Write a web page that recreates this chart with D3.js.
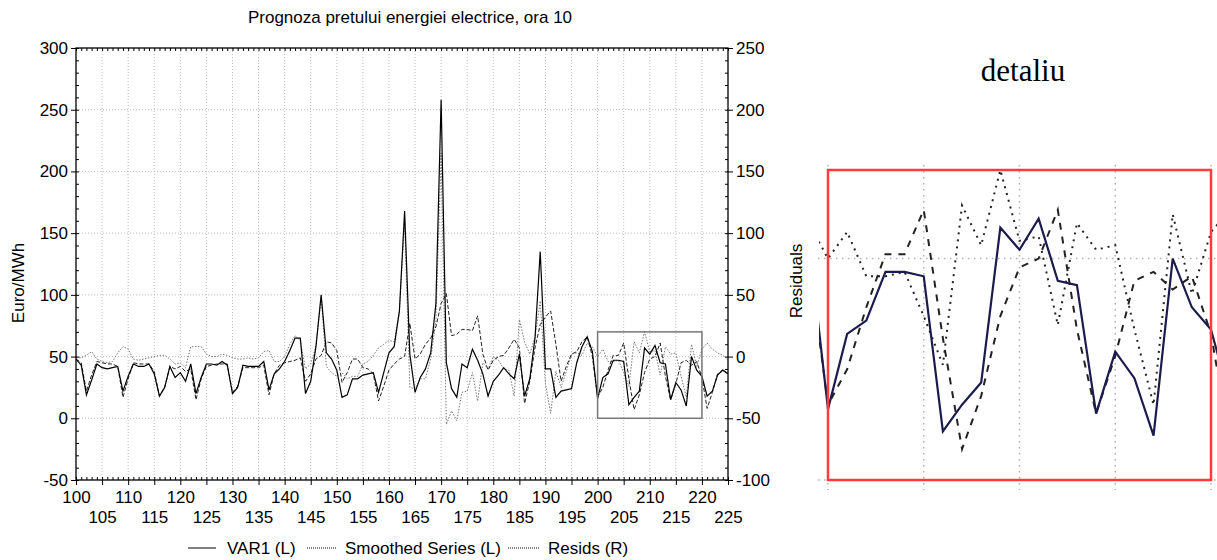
<!DOCTYPE html>
<html>
<head>
<meta charset="utf-8">
<script src="https://cdn.jsdelivr.net/npm/d3@7"></script>
<style>
body { margin: 0; background: #fff; }
text { font-family: Arial, "Liberation Sans", sans-serif; }
</style>
</head>
<body>
<div id="chart"></div>
<script>
var days = d3.range(100, 226);

var var1 = [48,43,19,31,44,41,40,41,42,22,
34,44,42,42,44,36,18,25,42,33,
37,30,44,20,33,44,44,43,46,43,
20,25,43,42,42,42,46,23,36,40,
46,55,65,65,20,30,58,100,53,48,
39,17,19,32,32,35,36,37,21,37,
53,58,87,168,52,21,33,40,53,93,
258,45,24,17,44,41,56,47,36,18,
30,35,41,36,32,52,18,32,65,135,
40,40,17,22,23,24,45,58,66,54,
16,33,36,47,47,46,11,17,22,57,
52,59,45,44,15,29,23,10,50,39,
34,18,22,35,39,36];

var smoothed = [48,45,22,35,46,45,44,44,42,17,
32,45,44,44,44,38,18,25,42,40,
42,38,40,15,32,42,43,44,44,44,
21,26,41,41,41,41,43,19,36,43,
45,46,47,49,30,36,48,51,62,61,
55,29,37,48,48,41,40,36,14,26,
39,44,48,50,77,48,52,60,65,74,
93,101,67,68,72,72,71,83,52,39,
47,50,51,57,64,57,12,30,57,76,
82,87,60,30,42,52,54,62,66,50,
17,25,39,51,51,61,32,7,19,37,
48,50,61,34,15,28,45,47,43,46,
33,8,21,36,39,36];

// residuals, right axis
var resids = [-1,-1,1,4,-2,-4,-5,-4,3,8,
6,-2,-3,-2,-1,0,1,1,-2,-6,
-5,-9,8,8,8,2,0,0,2,1,
-1,-2,-2,-1,-2,-1,4,5,-4,-4,
0,10,17,13,-10,-6,9,48,-8,-13,
-16,-13,-18,-16,-16,-6,-4,1,7,10,
13,12,36,110,-25,-26,-18,-18,-2,29,
165,-55,-44,-52,-29,-28,-13,-36,-5,-10,
0,-3,-10,-11,-32,30,12,2,16,45,
-22,-46,-12,-25,-12,2,3,1,11,8,
0,6,-4,-4,-3,-13,-24,12,3,20,
4,5,-15,8,2,3,-16,-33,10,-8,
6,11,6,3,1,-3];

var leftTicks = [-50, 0, 50, 100, 150, 200, 250, 300];
var rightTicks = [-100, -50, 0, 50, 100, 150, 200, 250];
var xTicksTop = [100, 110, 120, 130, 140, 150, 160, 170, 180, 190, 200, 210, 220];
var xTicksLow = [105, 115, 125, 135, 145, 155, 165, 175, 185, 195, 205, 215, 225];
var legendNames = ['VAR1 (L)', 'Smoothed Series (L)', 'Resids (R)'];
var boxRange = {x0: 200, x1: 220, r0: -50, r1: 20};

var W = 1217, H = 560;
var svg = d3.select('#chart')
.append('svg')
.attr('width', W)
.attr('height', H);

var x = d3.scaleLinear().domain([100, 225]).range([76, 728]);
var yL = d3.scaleLinear().domain([-50, 300]).range([480, 48]);
var yR = d3.scaleLinear().domain([-100, 250]).range([480, 48]);

var plain = function(d) { return String(d); };

var data = days.map(function(d, i) {
  return {day: d, v: var1[i], s: smoothed[i], r: resids[i]};
});

// grid
var grid = svg.append('g').attr('stroke', '#bdbdbd').attr('stroke-dasharray', '1,2');
grid.selectAll('.gv')
.data(d3.range(105, 225, 5))
.enter().append('line')
.attr('x1', function(d) { return x(d); })
.attr('x2', function(d) { return x(d); })
.attr('y1', 48).attr('y2', 480);
grid.selectAll('.gh')
.data(leftTicks.slice(1, -1))
.enter().append('line')
.attr('x1', 76).attr('x2', 728)
.attr('y1', function(d) { return yL(d); })
.attr('y2', function(d) { return yL(d); });

svg.append('clipPath').attr('id', 'clipMain')
.append('rect').attr('x', 76).attr('y', 48).attr('width', 652).attr('height', 432);

var plot = svg.append('g').attr('clip-path', 'url(#clipMain)');

var lineV = d3.line().x(function(d) { return x(d.day); }).y(function(d) { return yL(d.v); });
var lineS = d3.line().x(function(d) { return x(d.day); }).y(function(d) { return yL(d.s); });
var lineR = d3.line().x(function(d) { return x(d.day); }).y(function(d) { return yR(d.r); });

plot.append('path').datum(data)
.attr('d', lineR).attr('fill', 'none')
.attr('stroke', '#777').attr('stroke-width', 1).attr('stroke-dasharray', '1.5,1.5');
plot.append('path').datum(data)
.attr('d', lineS).attr('fill', 'none')
.attr('stroke', '#222').attr('stroke-width', 1).attr('stroke-dasharray', '4,2');
plot.append('path').datum(data)
.attr('d', lineV).attr('fill', 'none')
.attr('stroke', '#000').attr('stroke-width', 1.2);

// box over the detailed region
svg.append('rect')
.attr('x', x(boxRange.x0))
.attr('y', yR(boxRange.r1))
.attr('width', x(boxRange.x1) - x(boxRange.x0))
.attr('height', yR(boxRange.r0) - yR(boxRange.r1))
.attr('fill', 'none').attr('stroke', '#777').attr('stroke-width', 1.5);

// axes
function styleAxis(g) {
  g.select('.domain').remove();
  g.selectAll('line').attr('stroke', '#000');
  g.selectAll('text').attr('font-size', '17px').attr('fill', '#000')
  .style('font-family', 'Arial, "Liberation Sans", sans-serif');
}

svg.append('g').attr('transform', 'translate(76,0)')
.call(d3.axisLeft(yL).tickValues(leftTicks).tickFormat(plain).tickSize(5).tickPadding(3)).call(styleAxis);
svg.append('g').attr('transform', 'translate(76,0)')
.call(d3.axisRight(yL).tickValues(d3.range(-50, 301, 10)).tickSize(3).tickFormat('')).call(styleAxis);
svg.append('g').attr('transform', 'translate(728,0)')
.call(d3.axisRight(yR).tickValues(rightTicks).tickFormat(plain).tickSize(5).tickPadding(3)).call(styleAxis);
svg.append('g').attr('transform', 'translate(728,0)')
.call(d3.axisLeft(yR).tickValues(d3.range(-100, 251, 10)).tickSize(3).tickFormat('')).call(styleAxis);

svg.append('g').attr('transform', 'translate(0,480)')
.call(d3.axisBottom(x).tickValues(xTicksTop).tickFormat(plain).tickSize(5).tickPadding(6)).call(styleAxis);
svg.append('g').attr('transform', 'translate(0,480)')
.call(d3.axisBottom(x).tickValues(xTicksLow).tickFormat(plain).tickSize(5).tickPadding(26)).call(styleAxis);
svg.append('g').attr('transform', 'translate(0,480)')
.call(d3.axisTop(x).tickValues(days).tickSize(3).tickFormat('')).call(styleAxis);
svg.append('g').attr('transform', 'translate(0,48)')
.call(d3.axisBottom(x).tickValues(days).tickSize(3).tickFormat('')).call(styleAxis);

svg.append('rect')
.attr('x', 76).attr('y', 48).attr('width', 652).attr('height', 432)
.attr('fill', 'none').attr('stroke', '#000').attr('stroke-width', 1.3);

// titles
svg.append('text')
.attr('x', 410).attr('y', 23)
.attr('text-anchor', 'middle').attr('font-size', '17px')
.text('Prognoza pretului energiei electrice, ora 10');

svg.append('text')
.attr('transform', 'translate(24,283) rotate(-90)')
.attr('text-anchor', 'middle').attr('font-size', '17px')
.text('Euro/MWh');

// legend
var legendItems = [
  {name: legendNames[0], x1: 188, x2: 216, tx: 227, dash: null},
  {name: legendNames[1], x1: 307, x2: 337, tx: 345, dash: '1,1'},
  {name: legendNames[2], x1: 508, x2: 540, tx: 548, dash: '1,1'}
];
var leg = svg.append('g');
leg.selectAll('line')
.data(legendItems).enter().append('line')
.attr('x1', function(d) { return d.x1; })
.attr('x2', function(d) { return d.x2; })
.attr('y1', 548).attr('y2', 548)
.attr('stroke', '#000').attr('stroke-width', 1)
.attr('stroke-dasharray', function(d) { return d.dash; });
leg.selectAll('text')
.data(legendItems).enter().append('text')
.attr('x', function(d) { return d.tx; })
.attr('y', 554)
.attr('font-size', '17px')
.text(function(d) { return d.name; });

// detail panel
var dx = d3.scaleLinear().domain([200, 220]).range([828, 1211]);
var dyL = d3.scaleLinear().domain([0, 70]).range([480, 170]);
var dyR = d3.scaleLinear().domain([-50, 20]).range([480, 170]);

svg.append('text')
.attr('x', 1023).attr('y', 81)
.attr('text-anchor', 'middle')
.attr('font-size', '31px')
.style('font-family', '"Liberation Serif", "Times New Roman", serif')
.text('detaliu');

svg.append('text')
.attr('transform', 'translate(802,281) rotate(-90)')
.attr('text-anchor', 'middle').attr('font-size', '17px')
.text('Residuals');

var dgrid = svg.append('g').attr('stroke', '#b0b0b0').attr('stroke-width', 1.5).attr('stroke-dasharray', '1.5,4.5');
dgrid.selectAll('.dv')
.data([200, 205, 210, 215, 220])
.enter().append('line')
.attr('x1', function(d) { return dx(d); })
.attr('x2', function(d) { return dx(d); })
.attr('y1', 165).attr('y2', 490);
dgrid.selectAll('.dh')
.data([-50, 0])
.enter().append('line')
.attr('x1', 818).attr('x2', 1217)
.attr('y1', function(d) { return dyR(d); })
.attr('y2', function(d) { return dyR(d); });

svg.append('clipPath').attr('id', 'clipDetail')
.append('rect').attr('x', 819).attr('y', 150).attr('width', 398).attr('height', 345);

var detail = svg.append('g').attr('clip-path', 'url(#clipDetail)');
var dData = data.filter(function(d) { return d.day >= 199 && d.day <= 221; });

var dLineV = d3.line().x(function(d) { return dx(d.day); }).y(function(d) { return dyL(d.v); });
var dLineS = d3.line().x(function(d) { return dx(d.day); }).y(function(d) { return dyL(d.s); });
var dLineR = d3.line().x(function(d) { return dx(d.day); }).y(function(d) { return dyR(d.r); });

detail.append('path').datum(dData)
.attr('d', dLineR).attr('fill', 'none')
.attr('stroke', '#222').attr('stroke-width', 2).attr('stroke-dasharray', '2,5');
detail.append('path').datum(dData)
.attr('d', dLineS).attr('fill', 'none')
.attr('stroke', '#222').attr('stroke-width', 2).attr('stroke-dasharray', '7,7');
detail.append('path').datum(dData)
.attr('d', dLineV).attr('fill', 'none')
.attr('stroke', '#1b1b4d').attr('stroke-width', 2.2);

svg.append('rect')
.attr('x', dx(200)).attr('y', dyR(20))
.attr('width', dx(220) - dx(200)).attr('height', dyR(-50) - dyR(20))
.attr('fill', 'none').attr('stroke', '#ff3b3b').attr('stroke-width', 2.5);
</script>
</body>
</html>
